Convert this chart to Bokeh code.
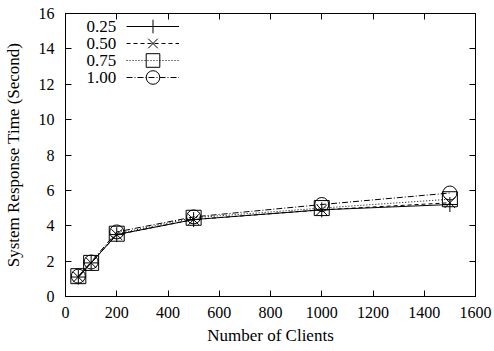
from bokeh.plotting import figure
from bokeh.models import (LinearAxis, Range1d, Legend, LegendItem, FixedTicker,
                          CustomJSTickFormatter, Label)
from bokeh.embed import file_html
from bokeh.resources import INLINE

clients = [50, 100, 200, 500, 1000, 1500]
s025 = [1.1, 1.9, 3.5, 4.35, 4.9, 5.2]
s050 = [1.1, 1.9, 3.5, 4.35, 4.9, 5.3]
s075 = [1.15, 1.9, 3.55, 4.45, 5.0, 5.5]
s100 = [1.15, 1.95, 3.65, 4.5, 5.2, 5.85]
labels = ["0.25", "0.50", "0.75", "1.00"]
xticks = [0, 200, 400, 600, 800, 1000, 1200, 1400, 1600]
yticks = [0, 2, 4, 6, 8, 10, 12, 14, 16]

FONT = "Liberation Serif"
FS_TICK = "16px"
FS_LABEL = "17px"

p = figure(width=494, height=351, output_backend="svg", toolbar_location=None,
           x_range=Range1d(0, 1600), y_range=Range1d(0, 16),
           min_border_left=64, min_border_right=19, min_border_top=13, min_border_bottom=55,
           x_axis_label="Number of Clients", y_axis_label="System Response Time (Second)")
p.grid.visible = False
p.outline_line_color = "black"
p.outline_line_width = 1
p.background_fill_color = "white"
p.border_fill_color = "white"

for ax in p.xaxis:
    ax.ticker = FixedTicker(ticks=xticks)
for ax in p.yaxis:
    ax.ticker = FixedTicker(ticks=yticks)

for ax in list(p.xaxis) + list(p.yaxis):
    ax.major_tick_in = 6
    ax.major_tick_out = 0
    ax.minor_tick_line_color = None
    ax.axis_line_color = "black"
    ax.major_label_text_font = FONT
    ax.major_label_text_font_size = FS_TICK
    ax.major_label_text_color = "black"
    ax.axis_label_text_font = FONT
    ax.axis_label_text_font_size = FS_LABEL
    ax.axis_label_text_font_style = "normal"
    ax.axis_label_text_color = "black"
p.yaxis.axis_label_standoff = 13
p.xaxis.axis_label_standoff = 5
p.xaxis.major_label_standoff = 10
p.yaxis.major_label_standoff = 11

blank = CustomJSTickFormatter(code="return ''")
top = LinearAxis(ticker=FixedTicker(ticks=xticks), formatter=blank,
                 major_tick_in=6, major_tick_out=0, minor_tick_line_color=None,
                 major_label_standoff=0)
right = LinearAxis(ticker=FixedTicker(ticks=yticks), formatter=blank,
                   major_tick_in=6, major_tick_out=0, minor_tick_line_color=None,
                   major_label_standoff=0)
p.add_layout(top, "above")
p.add_layout(right, "right")

series = [s025, s050, s075, s100]
dashes = ["solid", "4 3", "1 2", "6 2 1 2"]
markers = ["cross", "x", "square", "circle"]
items = []
for lab, ys, dash, mk in zip(labels, series, dashes, markers):
    l = p.line(clients, ys, line_color="black", line_width=1, line_dash=dash)
    m = p.scatter(clients, ys, marker=mk, size=15 if mk != "circle" else 14,
                  line_color="black", fill_color=None, line_width=1)
    items.append(LegendItem(label=" ", renderers=[l, m]))


def make_legend(its, loc):
    lg = Legend(items=its, location=loc)
    lg.background_fill_alpha = 0
    lg.border_line_color = None
    lg.label_text_font_size = "1px"
    lg.label_standoff = 0
    lg.glyph_width = 53
    lg.glyph_height = 34
    lg.label_height = 34
    lg.spacing = 0
    lg.padding = 0
    lg.margin = 0
    return lg


# two interleaved legends so the big sample markers keep gnuplot-like row spacing
p.add_layout(make_legend([items[0], items[2]], (61, 219)))
p.add_layout(make_legend([items[1], items[3]], (61, 202)))

# legend texts (placed left of the legend samples, in data units)
label_x = 198
label_y = [15.27, 14.31, 13.34, 12.38]
for lab, ly in zip(labels, label_y):
    p.add_layout(Label(x=label_x, y=ly, text=lab, text_align="right",
                       text_baseline="middle", text_font=FONT,
                       text_font_size=FS_LABEL, text_color="black"))

open("out.html", "w").write(file_html(p, INLINE))
